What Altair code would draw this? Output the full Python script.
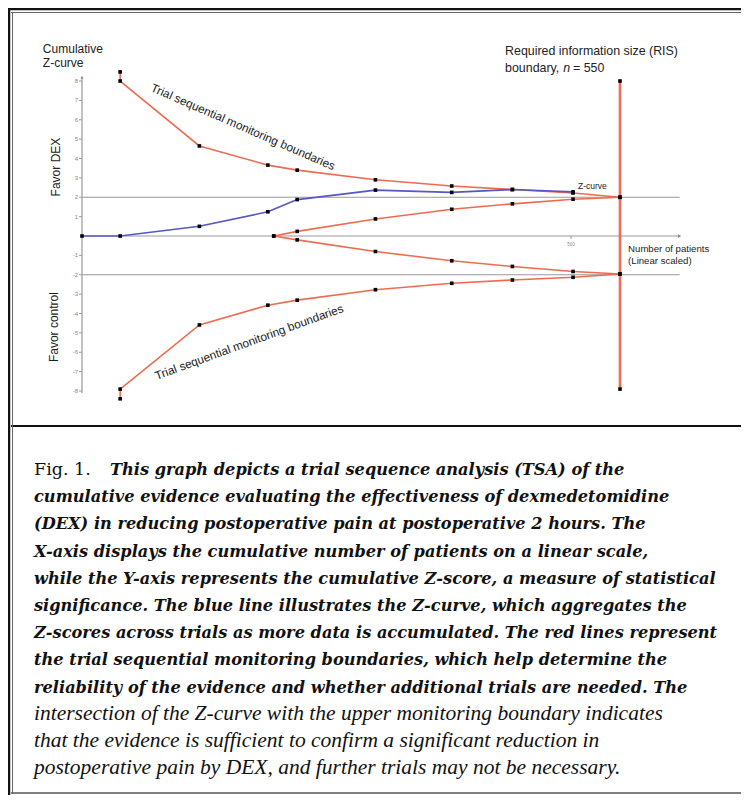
import altair as alt
import pandas as pd

# ---------------- data ----------------
z_patients = [0, 39, 120, 190, 220, 300, 378, 440, 502]
z_scores = [0.0, 0.0, 0.5, 1.25, 1.88, 2.37, 2.25, 2.4, 2.28]

bound_patients = [39, 39, 120, 190, 220, 300, 378, 440, 502, 550]
upper_bound = [8.47, 8.0, 4.65, 3.66, 3.4, 2.9, 2.58, 2.4, 2.22, 2.0]
lower_bound = [-8.4, -7.9, -4.59, -3.57, -3.31, -2.77, -2.44, -2.27, -2.13, -1.96]

inner_patients = [196, 220, 300, 378, 440, 502, 550]
inner_upper = [0.0, 0.24, 0.88, 1.38, 1.66, 1.9, 2.0]
inner_lower = [0.0, -0.2, -0.8, -1.28, -1.57, -1.83, -1.96]

ris_n = 550
ris_top = 8.0
ris_bottom = -7.9

y_ticks = [8, 7, 6, 5, 4, 3, 2, 1, -1, -2, -3, -4, -5, -6, -7, -8]
x_ticks = [500]
x_tick_labels = ["500"]
ref_levels = [2, -2]
axis_x_end = 611
axis_y_top = 8.2
axis_y_bottom = -8.1

caption_lines_a = [
    "This graph depicts a trial sequence analysis (TSA) of the",
    "cumulative evidence evaluating the effectiveness of dexmedetomidine",
    "(DEX) in reducing postoperative pain at postoperative 2 hours. The",
    "X-axis displays the cumulative number of patients on a linear scale,",
    "while the Y-axis represents the cumulative Z-score, a measure of statistical",
    "significance. The blue line illustrates the Z-curve, which aggregates the",
    "Z-scores across trials as more data is accumulated. The red lines represent",
    "the trial sequential monitoring boundaries, which help determine the",
    "reliability of the evidence and whether additional trials are needed. The",
]
caption_lines_b = [
    "intersection of the Z-curve with the upper monitoring boundary indicates",
    "that the evidence is sufficient to confirm a significant reduction in",
    "postoperative pain by DEX, and further trials may not be necessary.",
]

RED = "#EE6B4F"
BLUE = "#5457C4"
W, H = 733, 787

xs = alt.Scale(domain=[-75.65, 673.7], nice=False, zero=False)
ys = alt.Scale(domain=[-28.85, 11.768], nice=False, zero=False)


def X(f):
    return alt.X(f, scale=xs, axis=None)


def Y(f):
    return alt.Y(f, scale=ys, axis=None)


# ---------------- data frames ----------------
rows = []
for i, (n, z) in enumerate(zip(bound_patients, upper_bound)):
    rows.append(dict(series="upper", order=i, n=n, z=z))
for i, (n, z) in enumerate(zip(bound_patients, lower_bound)):
    rows.append(dict(series="lower", order=i, n=n, z=z))
for i, (n, z) in enumerate(zip(inner_patients, inner_upper)):
    rows.append(dict(series="inner_upper", order=i, n=n, z=z))
for i, (n, z) in enumerate(zip(inner_patients, inner_lower)):
    rows.append(dict(series="inner_lower", order=i, n=n, z=z))
bdf = pd.DataFrame(rows)
zdf = pd.DataFrame(dict(n=z_patients, z=z_scores, order=list(range(len(z_patients)))))
risdf = pd.DataFrame(dict(n=[ris_n], top=[ris_top], bottom=[ris_bottom]))
pts = pd.concat([
    bdf[["n", "z"]],
    zdf[["n", "z"]],
    pd.DataFrame(dict(n=[ris_n, ris_n], z=[ris_top, ris_bottom])),
])

# ---------------- frame ----------------
frame_h = pd.DataFrame(dict(
    x1=[0, 3, 3, 3], x2=[W, W, W, W], y=[1, 4.5, 418, 785],
    w=[2.5, 1.0, 2.2, 1.5], c=["#111", "#666", "#111", "#555"]))
frame_v = pd.DataFrame(dict(x=[1, 4.5], y1=[0, 4], y2=[H, 786], w=[2.5, 1.0], c=["#111", "#666"]))

frame_hl = alt.Chart(frame_h).mark_rule().encode(
    x=alt.X("x1:Q", scale=None), x2="x2:Q", y=alt.Y("y:Q", scale=None),
    strokeWidth=alt.StrokeWidth("w:Q", scale=None), color=alt.Color("c:N", scale=None))
frame_vl = alt.Chart(frame_v).mark_rule().encode(
    x=alt.X("x:Q", scale=None), y=alt.Y("y1:Q", scale=None), y2="y2:Q",
    strokeWidth=alt.StrokeWidth("w:Q", scale=None), color=alt.Color("c:N", scale=None))

# ---------------- axes ----------------
refdf = pd.DataFrame(dict(z=ref_levels, x0=[0] * len(ref_levels), x1=[axis_x_end] * len(ref_levels)))
ref = alt.Chart(refdf).mark_rule(color="#9a9a9a", strokeWidth=1.2).encode(x=X("x0:Q"), x2="x1:Q", y=Y("z:Q"))
xaxis = alt.Chart(pd.DataFrame(dict(z=[0], x0=[0], x1=[axis_x_end]))).mark_rule(
    color="#9a9a9a", strokeWidth=1.2).encode(x=X("x0:Q"), x2="x1:Q", y=Y("z:Q"))
xarrow = alt.Chart(pd.DataFrame(dict(n=[axis_x_end], z=[0]))).mark_point(
    shape="triangle-right", filled=True, size=14, color="#8a8a8a", opacity=1).encode(x=X("n:Q"), y=Y("z:Q"))
yaxis = alt.Chart(pd.DataFrame(dict(n=[0], a=[axis_y_bottom], b=[axis_y_top]))).mark_rule(
    color="#9a9a9a", strokeWidth=1.2).encode(x=X("n:Q"), y=Y("a:Q"), y2="b:Q")
yarrow = alt.Chart(pd.DataFrame(dict(n=[0], z=[axis_y_top]))).mark_point(
    shape="triangle-up", filled=True, size=10, color="#8a8a8a", opacity=1).encode(x=X("n:Q"), y=Y("z:Q"))
ytdf = pd.DataFrame(dict(z=y_ticks, lab=[str(t) for t in y_ticks], x0=[-3] * len(y_ticks), x1=[0] * len(y_ticks),
                         lx=[-4] * len(y_ticks)))
yticks = alt.Chart(ytdf).mark_rule(color="#9a9a9a", strokeWidth=1).encode(x=X("x0:Q"), x2="x1:Q", y=Y("z:Q"))
ylabels = alt.Chart(ytdf).mark_text(align="right", baseline="middle", fontSize=6, color="#888",
                                    font="Liberation Sans").encode(x=X("lx:Q"), y=Y("z:Q"), text="lab:N")
xtdf = pd.DataFrame(dict(n=x_ticks, lab=x_tick_labels, a=[0] * len(x_ticks), b=[-0.15] * len(x_ticks),
                         ly=[-0.45] * len(x_ticks)))
xticks = alt.Chart(xtdf).mark_rule(color="#9a9a9a", strokeWidth=1).encode(x=X("n:Q"), y=Y("a:Q"), y2="b:Q")
xlabels = alt.Chart(xtdf).mark_text(fontSize=4.5, color="#8a8a8a", baseline="middle",
                                    font="Liberation Sans").encode(x=X("n:Q"), y=Y("ly:Q"), text="lab:N")

# ---------------- series ----------------
blines = alt.Chart(bdf).mark_line(color=RED, strokeWidth=1.6).encode(
    x=X("n:Q"), y=Y("z:Q"), detail="series:N", order="order:Q")
ris = alt.Chart(risdf).mark_rule(color=RED, strokeWidth=2.6).encode(x=X("n:Q"), y=Y("top:Q"), y2="bottom:Q")
zline = alt.Chart(zdf).mark_line(color=BLUE, strokeWidth=1.6).encode(x=X("n:Q"), y=Y("z:Q"), order="order:Q")
points = alt.Chart(pts).mark_square(size=13, color="#000", opacity=1).encode(x=X("n:Q"), y=Y("z:Q"))


# ---------------- annotations ----------------
def txt(n, z, s, **kw):
    base = dict(font="Liberation Sans", color="#222", align="left", baseline="alphabetic")
    base.update(kw)
    return alt.Chart(pd.DataFrame(dict(n=[n], z=[z], t=[s]))).mark_text(**base).encode(
        x=X("n:Q"), y=Y("z:Q"), text="t:N")


ann = [
    txt(-40, 9.42, "Cumulative", fontSize=12),
    txt(-40, 8.72, "Z-curve", fontSize=12),
    txt(-26.6, 3.56, "Favor DEX", fontSize=12, angle=270, align="center", baseline="middle"),
    txt(-28.6, -4.7, "Favor control", fontSize=12, angle=270, align="center", baseline="middle"),
    txt(164.6, 5.63, "Trial sequential monitoring boundaries", fontSize=11.8, angle=23.5, align="center",
        baseline="middle"),
    txt(170.8, -5.47, "Trial sequential monitoring boundaries", fontSize=11.8, angle=340, align="center",
        baseline="middle"),
    txt(507, 2.43, "Z-curve", fontSize=8.5),
    txt(432.5, 9.32, "Required information size (RIS)", fontSize=12.4),
    txt(432.5, 8.46, "boundary,", fontSize=12.4),
    txt(492, 8.46, "n", fontSize=12.4, fontStyle="italic"),
    txt(502, 8.46, "= 550", fontSize=12.4),
    txt(558.3, -0.83, "Number of patients", fontSize=9.6),
    txt(558.3, -1.42, "(Linear scaled)", fontSize=9.6),
]

# ---------------- caption ----------------
LH = 27.2
Y0 = 467
capA = pd.DataFrame(dict(
    px=[102] + [26] * (len(caption_lines_a) - 1),
    py=[Y0 + LH * i for i in range(len(caption_lines_a))],
    t=caption_lines_a))
capB = pd.DataFrame(dict(
    px=[26] * len(caption_lines_b),
    py=[Y0 + LH * (len(caption_lines_a) + i) for i in range(len(caption_lines_b))],
    t=caption_lines_b))
figlab = pd.DataFrame(dict(px=[26], py=[Y0], t=["Fig. 1."]))

cap_fig = alt.Chart(figlab).mark_text(font="DejaVu Serif", fontSize=17.5, align="left", baseline="alphabetic",
                                      color="#111").encode(
    x=alt.X("px:Q", scale=None), y=alt.Y("py:Q", scale=None), text="t:N")
cap_a = alt.Chart(capA).mark_text(font="DejaVu Serif", fontSize=16.2, fontStyle="italic", fontWeight="bold",
                                  align="left", baseline="alphabetic", color="#111").encode(
    x=alt.X("px:Q", scale=None), y=alt.Y("py:Q", scale=None), text="t:N")
cap_b = alt.Chart(capB).mark_text(font="Liberation Serif", fontSize=21.5, fontStyle="italic", align="left",
                                  baseline="alphabetic", color="#111").encode(
    x=alt.X("px:Q", scale=None), y=alt.Y("py:Q", scale=None), text="t:N")

chart = alt.layer(
    frame_hl, frame_vl,
    ref, xaxis, xarrow, yaxis, yarrow, yticks, ylabels, xticks, xlabels,
    blines, ris, zline, points,
    *ann,
    cap_fig, cap_a, cap_b,
).resolve_scale(x="independent", y="independent").properties(
    width=W, height=H, padding=0, autosize="none", background="white"
).configure_view(stroke=None)

chart.save("out.html", embed_options={"renderer": "svg", "actions": False})
